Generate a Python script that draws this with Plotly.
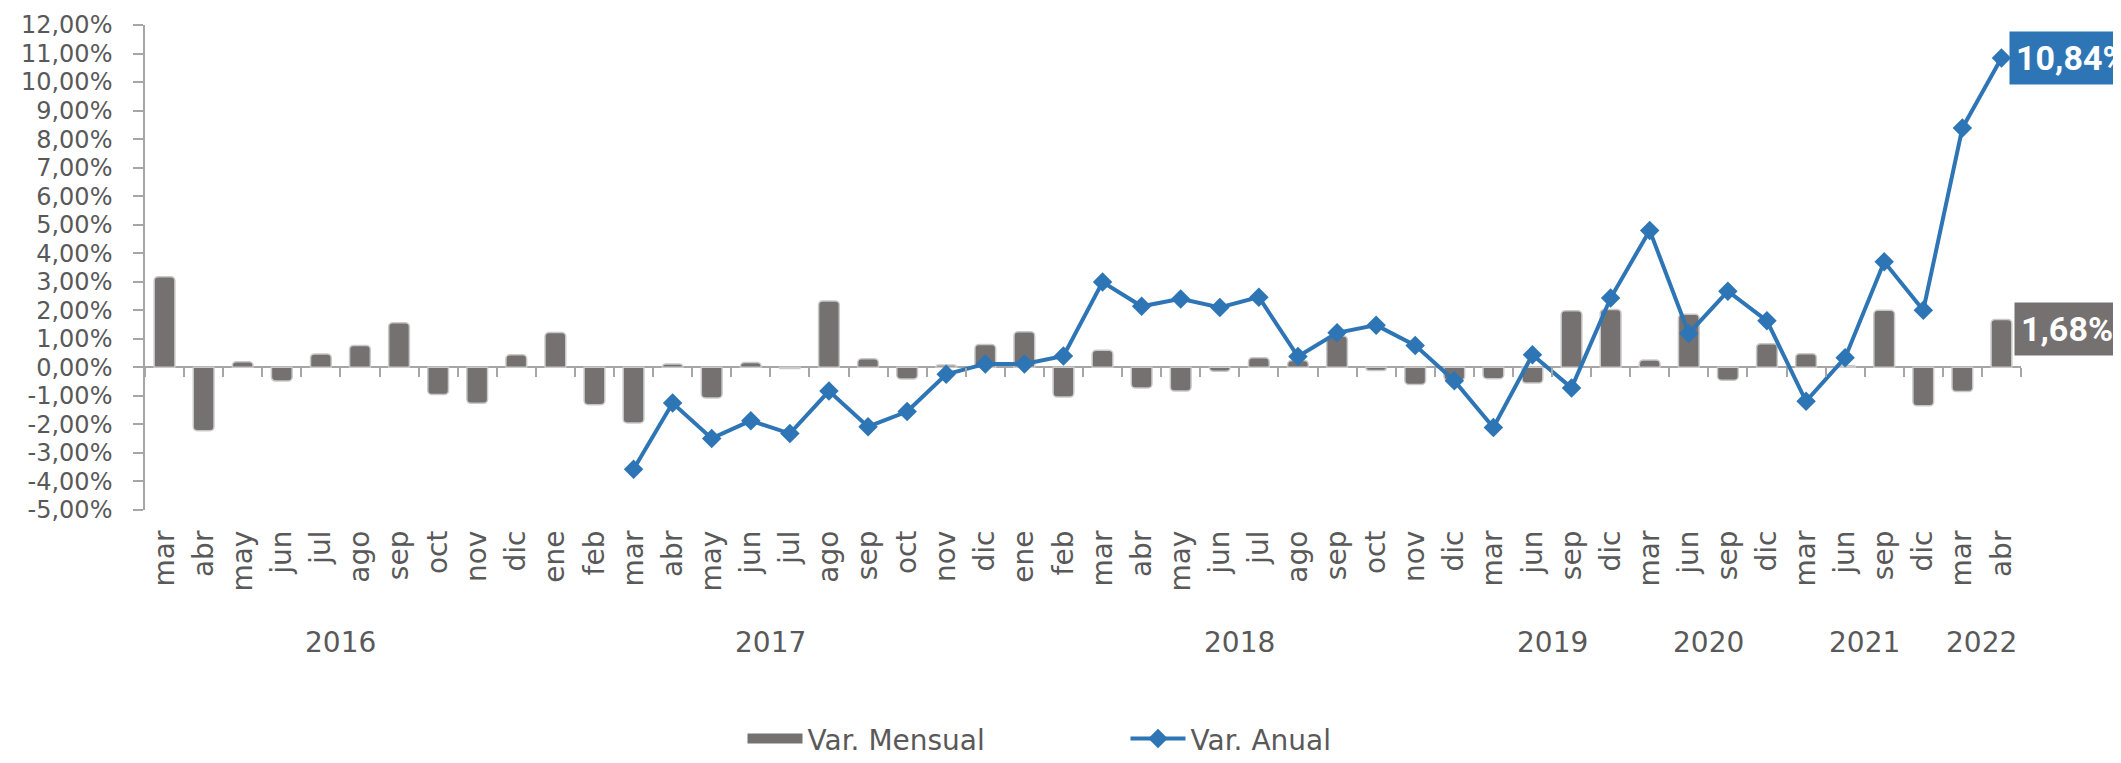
import plotly.graph_objects as go

MONTHS = ["mar", "abr", "may", "jun", "jul", "ago", "sep", "oct", "nov", "dic",
          "ene", "feb", "mar", "abr", "may", "jun", "jul", "ago", "sep", "oct", "nov", "dic",
          "ene", "feb", "mar", "abr", "may", "jun", "jul", "ago", "sep", "oct", "nov", "dic",
          "mar", "jun", "sep", "dic",
          "mar", "jun", "sep", "dic",
          "mar", "jun", "sep", "dic",
          "mar", "abr"]
YEARS = ["2016", "2017", "2018", "2019", "2020", "2021", "2022"]
YEAR_COUNTS = [10, 12, 12, 4, 4, 4, 2]

VAR_MENSUAL = [3.18, -2.22, 0.20, -0.48, 0.47, 0.77, 1.56, -0.95, -1.26, 0.44,
               1.22, -1.31, -1.95, 0.12, -1.07, 0.17, -0.04, 2.33, 0.30, -0.41, 0.08, 0.80,
               1.25, -1.04, 0.60, -0.72, -0.83, -0.14, 0.34, 0.24, 1.10, -0.11, -0.60, -0.45,
               -0.40, -0.55, 1.98, 2.03,
               0.26, 1.86, -0.45, 0.83,
               0.48, 0.06, 2.00, -1.35,
               -0.85, 1.68]
VAR_ANUAL = [None] * 12 + [
    -3.57, -1.25, -2.49, -1.87, -2.32, -0.83, -2.08, -1.55, -0.24, 0.12,
    0.12, 0.40, 2.99, 2.14, 2.40, 2.10, 2.46, 0.38, 1.21, 1.48, 0.77, -0.47,
    -2.11, 0.44, -0.72, 2.43,
    4.80, 1.19, 2.67, 1.63,
    -1.19, 0.34, 3.70, 2.00,
    8.39, 10.84]

Y_TICKS = list(range(-5, 13))
Y_TICKTEXT = [f"{v},00%" for v in Y_TICKS]

FONT = "DejaVu Sans"
GRAY_TXT = "#595959"
AXIS_GRAY = "#A6A6A6"
BAR_COLOR = "#767171"
LINE_COLOR = "#2E75B6"

x_idx = list(range(len(MONTHS)))

fig = go.Figure()
# legend entry for the bars (thick line gives a wide rectangle swatch)
fig.add_trace(go.Scatter(
    x=[None], y=[None], name="Var. Mensual", mode="lines",
    line=dict(color=BAR_COLOR, width=22), showlegend=True, hoverinfo="skip",
))
fig.add_trace(go.Bar(
    x=x_idx, y=VAR_MENSUAL, name="Var. Mensual", showlegend=False,
    marker=dict(color=BAR_COLOR, line=dict(color="#C9C9C9", width=1.5), cornerradius=4),
    width=0.53, xaxis="x", yaxis="y",
))
fig.add_trace(go.Scatter(
    x=x_idx, y=VAR_ANUAL, name="Var. Anual", mode="lines+markers",
    line=dict(color=LINE_COLOR, width=4),
    marker=dict(symbol="diamond", size=15, color=LINE_COLOR),
    connectgaps=False, xaxis="x2", yaxis="y",
))

annotations = []
start = 0
for yr, cnt in zip(YEARS, YEAR_COUNTS):
    center = start + (cnt - 1) / 2
    annotations.append(dict(
        x=center, y=-0.274, xref="x", yref="paper", text=yr, showarrow=False,
        xanchor="center", yanchor="middle", font=dict(family=FONT, size=28, color=GRAY_TXT)))
    start += cnt

last = len(MONTHS) - 1
annotations.append(dict(
    x=last, y=VAR_ANUAL[last], xref="x", yref="y",
    text="<b>" + f"{VAR_ANUAL[last]:.2f}".replace(".", ",") + "%</b>",
    showarrow=False, xanchor="left", yanchor="middle", xshift=8,
    bgcolor=LINE_COLOR, borderpad=6,
    font=dict(family="Roboto", size=34, color="white")))
annotations.append(dict(
    x=last, y=VAR_MENSUAL[last], xref="x", yref="y",
    text="<b>" + f"{VAR_MENSUAL[last]:.2f}".replace(".", ",") + "%</b>",
    showarrow=False, xanchor="left", yanchor="middle", xshift=13, yshift=-10,
    bgcolor=BAR_COLOR, borderpad=6,
    font=dict(family="Roboto", size=34, color="white")))

# The page body has an 8px margin, so the figure is 8px smaller and margins shifted.
fig.update_layout(
    width=2113, height=755,
    margin=dict(l=137, r=100, t=17, b=253, autoexpand=False),
    paper_bgcolor="white", plot_bgcolor="white",
    font=dict(family=FONT, color=GRAY_TXT),
    showlegend=True,
    legend=dict(orientation="h", x=0.3185, xanchor="left", y=-0.472, yanchor="middle",
                font=dict(family=FONT, size=28, color=GRAY_TXT),
                itemwidth=55, entrywidth=313, bgcolor="rgba(0,0,0,0)", traceorder="normal"),
    xaxis=dict(range=[-0.5, last + 0.5], tickmode="array", tickvals=x_idx, ticktext=MONTHS,
               tickangle=-90, showline=False, ticks="", showgrid=False, zeroline=False,
               tickfont=dict(family=FONT, size=28, color=GRAY_TXT), ticklabelstandoff=14),
    xaxis2=dict(range=[-0.5, last + 0.5], overlaying="x", anchor="free", position=5 / 17,
                side="bottom", tickmode="linear", tick0=-0.5, dtick=1, ticks="outside",
                ticklen=9, tickwidth=1.5, tickcolor=AXIS_GRAY, showticklabels=False,
                showline=False, showgrid=False, zeroline=False),
    yaxis=dict(range=[-5, 12], tickmode="array", tickvals=Y_TICKS, ticktext=Y_TICKTEXT,
               showline=True, linecolor=AXIS_GRAY, linewidth=1.5, ticks="outside", ticklen=10,
               tickwidth=1.5, tickcolor=AXIS_GRAY, showgrid=False,
               zeroline=True, zerolinecolor=AXIS_GRAY, zerolinewidth=1.5,
               tickfont=dict(family=FONT, size=24, color=GRAY_TXT), ticklabelstandoff=16),
    annotations=annotations,
    bargap=0.47,
)

fig.write_html("out.html")
